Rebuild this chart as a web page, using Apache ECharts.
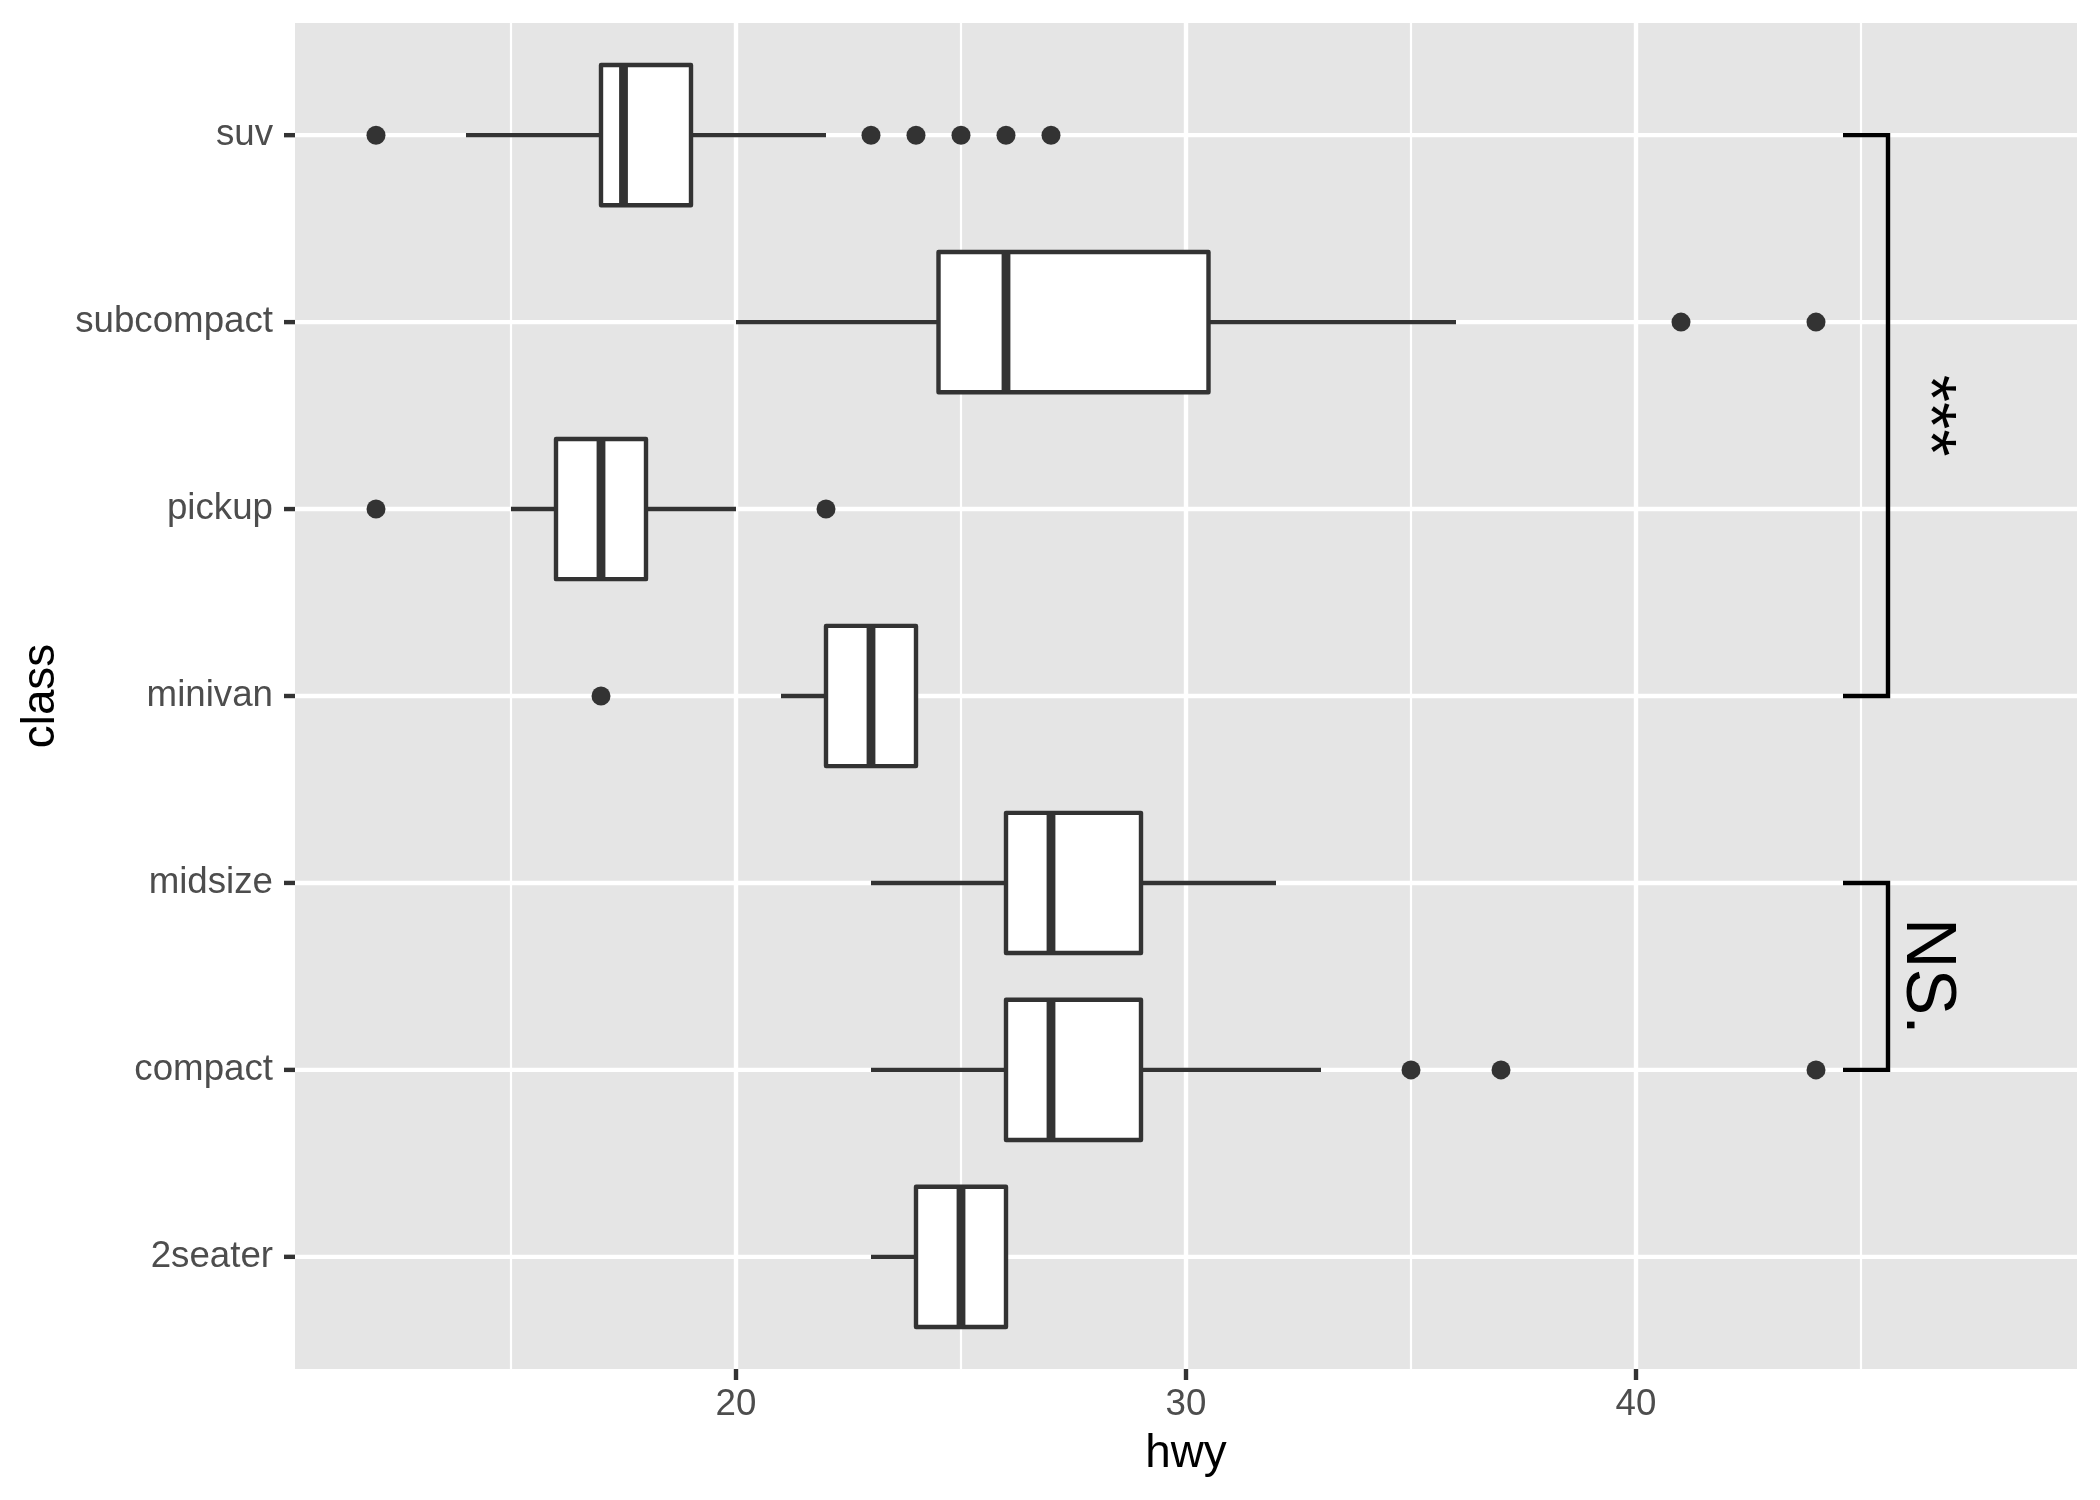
<!DOCTYPE html>
<html>
<head>
<meta charset="utf-8">
<script src="https://cdn.jsdelivr.net/npm/echarts@6/dist/echarts.min.js"></script>
<style>
html, body { margin: 0; padding: 0; background: #fff; }
#chart { width: 2100px; height: 1500px; }
</style>
</head>
<body>
<div id="chart"></div>
<script>
// classes from bottom to top, as ggplot orders them
var classes = ['2seater', 'compact', 'midsize', 'minivan', 'pickup', 'subcompact', 'suv'];
// hwy box statistics per class
var whiskerLow  = [23, 23, 23, 21, 15, 20,   14];
var q1          = [24, 26, 26, 22, 16, 24.5, 17];
var median      = [25, 27, 27, 23, 17, 26,   17.5];
var q3          = [26, 29, 29, 24, 18, 30.5, 19];
var whiskerHigh = [26, 33, 32, 24, 20, 36,   22];
var outliers = [
  ['compact', 35], ['compact', 37], ['compact', 44],
  ['minivan', 17],
  ['pickup', 12], ['pickup', 22],
  ['subcompact', 41], ['subcompact', 44],
  ['suv', 12], ['suv', 23], ['suv', 24], ['suv', 25], ['suv', 26], ['suv', 27]
];
// significance brackets: from class, to class, label
var brackets = [['suv', 'minivan', '***'], ['midsize', 'compact', 'NS.']];
var xMajor = [20, 30, 40];
var xMinor = [15, 25, 35, 45];

var font = 'Liberation Sans';
var ink = '#333333';
var lw = 4.4;

var myChart = echarts.init(document.getElementById('chart'));

function renderGrid(params, api) {
  var cs = params.coordSys;
  var kids = [];
  xMinor.forEach(function (v) {
    var x = api.coord([v, 0])[0];
    kids.push({type: 'line', shape: {x1: x, y1: cs.y, x2: x, y2: cs.y + cs.height}, style: {stroke: '#fff', lineWidth: lw / 2}});
  });
  xMajor.forEach(function (v) {
    var x = api.coord([v, 0])[0];
    kids.push({type: 'line', shape: {x1: x, y1: cs.y, x2: x, y2: cs.y + cs.height}, style: {stroke: '#fff', lineWidth: lw}});
  });
  classes.forEach(function (c, i) {
    var y = api.coord([20, i])[1];
    kids.push({type: 'line', shape: {x1: cs.x, y1: y, x2: cs.x + cs.width, y2: y}, style: {stroke: '#fff', lineWidth: lw}});
    // tick mark left of the panel
    kids.push({type: 'line', shape: {x1: cs.x - 11, y1: y, x2: cs.x, y2: y}, style: {stroke: ink, lineWidth: lw}});
  });
  xMajor.forEach(function (v) {
    var x = api.coord([v, 0])[0];
    var yb = cs.y + cs.height;
    kids.push({type: 'line', shape: {x1: x, y1: yb, x2: x, y2: yb + 11}, style: {stroke: ink, lineWidth: lw}});
  });
  return {type: 'group', children: kids};
}

function renderBox(params, api) {
  var i = api.value(0);
  var lo = api.coord([api.value(1), i]);
  var b1 = api.coord([api.value(2), i]);
  var md = api.coord([api.value(3), i]);
  var b3 = api.coord([api.value(4), i]);
  var hi = api.coord([api.value(5), i]);
  var half = api.size([0, 0.75])[1] / 2;
  var y = lo[1];
  return {type: 'group', children: [
    {type: 'line', shape: {x1: lo[0], y1: y, x2: b1[0], y2: y}, style: {stroke: ink, lineWidth: lw}},
    {type: 'line', shape: {x1: b3[0], y1: y, x2: hi[0], y2: y}, style: {stroke: ink, lineWidth: lw}},
    {type: 'rect', shape: {x: b1[0], y: y - half, width: b3[0] - b1[0], height: half * 2},
      style: {fill: '#fff', stroke: ink, lineWidth: lw, lineJoin: 'round'}},
    {type: 'line', shape: {x1: md[0], y1: y - half, x2: md[0], y2: y + half}, style: {stroke: ink, lineWidth: lw * 2}}
  ]};
}

function renderBracket(params, api) {
  var a = api.coord([45.6, api.value(0)]);
  var b = api.coord([45.6, api.value(1)]);
  var tip = api.coord([44.6, api.value(0)])[0];
  return {type: 'group', children: [
    {type: 'polyline', shape: {points: [[tip, a[1]], [a[0], a[1]], [b[0], b[1]], [tip, b[1]]]},
      style: {stroke: '#000', lineWidth: lw, fill: null}},
    {type: 'text', x: a[0] + 38, y: (a[1] + b[1]) / 2, rotation: -Math.PI / 2,
      style: {text: brackets[params.dataIndex][2], font: '70px "' + font + '"', fill: '#000',
        align: 'center', verticalAlign: 'middle'}}
  ]};
}

var option = {
  backgroundColor: '#fff',
  animation: false,
  grid: {left: 295, right: 23, top: 23, bottom: 131, show: true, backgroundColor: '#E5E5E5', borderWidth: 0},
  xAxis: {
    type: 'value', min: 10.2, max: 49.8,
    axisLine: {show: false}, splitLine: {show: false}, axisTick: {show: false},
    axisLabel: {customValues: xMajor, margin: 17, color: '#4D4D4D', fontSize: 36.7, fontFamily: font},
    name: 'hwy', nameLocation: 'middle', nameGap: 62,
    nameTextStyle: {color: '#000', fontSize: 45.8, fontFamily: font}
  },
  yAxis: {
    type: 'value', min: -0.6, max: 6.6,
    axisLine: {show: false}, splitLine: {show: false}, axisTick: {show: false},
    axisLabel: {
      customValues: classes.map(function (c, i) { return i; }),
      formatter: function (v) { return classes[Math.round(v)]; },
      margin: 22, color: '#4D4D4D', fontSize: 36.7, fontFamily: font
    },
    name: 'class', nameLocation: 'middle', nameRotate: 90, nameGap: 228,
    nameTextStyle: {color: '#000', fontSize: 45.8, fontFamily: font}
  },
  series: [
    {type: 'custom', z: 1, silent: true, renderItem: renderGrid, data: [[20, 0]]},
    {
      type: 'custom', z: 2, renderItem: renderBox,
      encode: {x: [1, 2, 3, 4, 5], y: 0},
      data: classes.map(function (c, i) {
        return [i, whiskerLow[i], q1[i], median[i], q3[i], whiskerHigh[i]];
      })
    },
    {
      type: 'scatter', z: 3, symbolSize: 19,
      itemStyle: {color: ink, opacity: 1},
      data: outliers.map(function (o) { return [o[1], classes.indexOf(o[0])]; })
    },
    {
      type: 'custom', z: 4, renderItem: renderBracket,
      encode: {x: 2, y: [0, 1]},
      data: brackets.map(function (b) { return [classes.indexOf(b[0]), classes.indexOf(b[1]), 45.6]; })
    }
  ]
};
myChart.setOption(option);
</script>
</body>
</html>
